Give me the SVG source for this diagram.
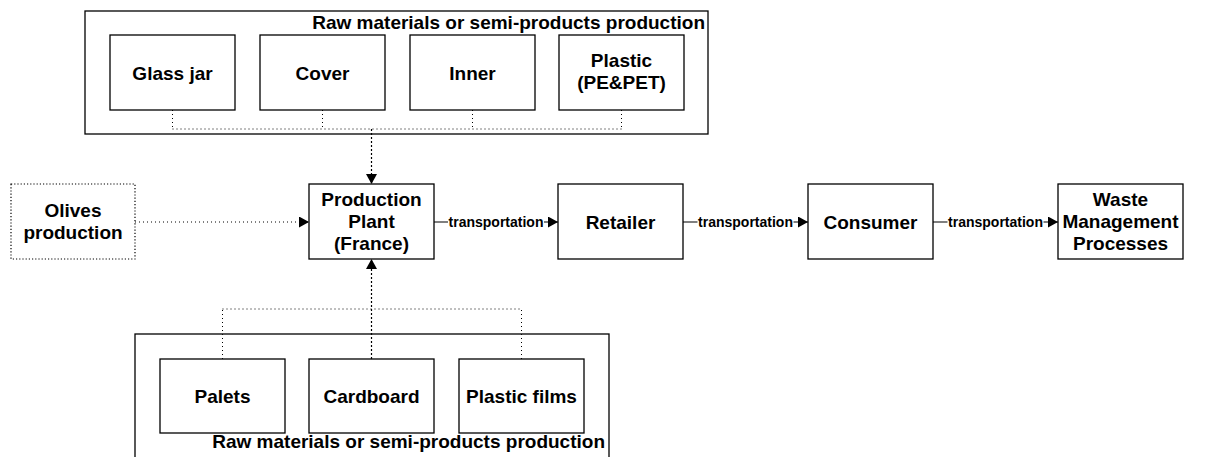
<svg xmlns="http://www.w3.org/2000/svg" width="1206" height="457" viewBox="0 0 1206 457">
<style>
.box{fill:#fff;stroke:#000;stroke-width:1.3}
.cont{fill:none;stroke:#000;stroke-width:1.3}
.dbox{fill:#fff;stroke:#000;stroke-width:1.2;stroke-dasharray:1.2,2}
text{font-family:"Liberation Sans",Arial,sans-serif;font-weight:bold;fill:#000}
.t{font-size:19px;text-anchor:middle}
.ttl{font-size:19px;text-anchor:end}
.lbl{font-size:14px;text-anchor:middle}
.dot{fill:none;stroke:#000;stroke-width:1;stroke-dasharray:1,3}
.dash{fill:none;stroke:#000;stroke-width:1.2;stroke-dasharray:2,2}
.solid{fill:none;stroke:#000;stroke-width:1.2}
</style>
<defs>
<marker id="ah" markerWidth="10" markerHeight="11" refX="10" refY="5.5" orient="auto" markerUnits="userSpaceOnUse">
<path d="M0,0 L10,5.5 L0,11 Z" fill="#000"/>
</marker>
</defs>
<rect width="1206" height="457" fill="#fff"/>

<g id="top-container">
<rect class="cont" x="85" y="11" width="623" height="123"/>
<text class="ttl" x="705" y="29">Raw materials or semi-products production</text>
</g>
<g id="bottom-container">
<rect class="cont" x="135" y="334" width="474" height="140"/>
<text class="ttl" x="605" y="448">Raw materials or semi-products production</text>
</g>

<g id="connectors">
<path class="dot" d="M172.5,110 V129 M322.5,110 V129 M472.5,110 V129 M621.5,110 V129 M172.5,129 H621.5"/>
<path class="dash" d="M371.5,129 V184" marker-end="url(#ah)"/>
<path class="dot" d="M222.5,359 V309 M521.5,359 V309 M222.5,309 H521.5"/>
<path class="dash" d="M371.5,359 V259" marker-end="url(#ah)"/>
<path class="dot" d="M135,222 H309" marker-end="url(#ah)"/>
<path class="solid" d="M434,222 H558" marker-end="url(#ah)"/>
<path class="solid" d="M683,222 H808" marker-end="url(#ah)"/>
<path class="solid" d="M933,222 H1058" marker-end="url(#ah)"/>
<g>
<rect x="448" y="213" width="96" height="17" fill="#fff"/>
<text class="lbl" x="496" y="227">transportation</text>
<rect x="697.5" y="213" width="96" height="17" fill="#fff"/>
<text class="lbl" x="745.5" y="227">transportation</text>
<rect x="947.5" y="213" width="96" height="17" fill="#fff"/>
<text class="lbl" x="995.5" y="227">transportation</text>
</g>
</g>

<g id="glass-jar"><rect class="box" x="110" y="35" width="125" height="75"/><text class="t" x="172.5" y="79.5">Glass jar</text></g>
<g id="cover"><rect class="box" x="260" y="35" width="125" height="75"/><text class="t" x="322.5" y="79.5">Cover</text></g>
<g id="inner"><rect class="box" x="410" y="35" width="125" height="75"/><text class="t" x="472.5" y="79.5">Inner</text></g>
<g id="plastic"><rect class="box" x="559" y="35" width="125" height="75"/><text class="t" x="621.5" y="67">Plastic</text><text class="t" x="621.5" y="89">(PE&amp;PET)</text></g>

<g id="olives"><rect class="dbox" x="11" y="184" width="124" height="75"/><text class="t" x="73" y="217">Olives</text><text class="t" x="73" y="239">production</text></g>
<g id="production-plant"><rect class="box" x="309" y="184" width="125" height="75"/><text class="t" x="371.5" y="206">Production</text><text class="t" x="371.5" y="228">Plant</text><text class="t" x="371.5" y="250">(France)</text></g>
<g id="retailer"><rect class="box" x="558" y="184" width="125" height="75"/><text class="t" x="620.5" y="228.5">Retailer</text></g>
<g id="consumer"><rect class="box" x="808" y="184" width="125" height="75"/><text class="t" x="870.5" y="228.5">Consumer</text></g>
<g id="waste"><rect class="box" x="1058" y="184" width="125" height="75"/><text class="t" x="1120.5" y="206">Waste</text><text class="t" x="1120.5" y="228">Management</text><text class="t" x="1120.5" y="250">Processes</text></g>

<g id="palets"><rect class="box" x="160" y="359" width="125" height="74"/><text class="t" x="222.5" y="403">Palets</text></g>
<g id="cardboard"><rect class="box" x="309" y="359" width="125" height="74"/><text class="t" x="371.5" y="403">Cardboard</text></g>
<g id="plastic-films"><rect class="box" x="459" y="359" width="125" height="74"/><text class="t" x="521.5" y="403">Plastic films</text></g>
</svg>
